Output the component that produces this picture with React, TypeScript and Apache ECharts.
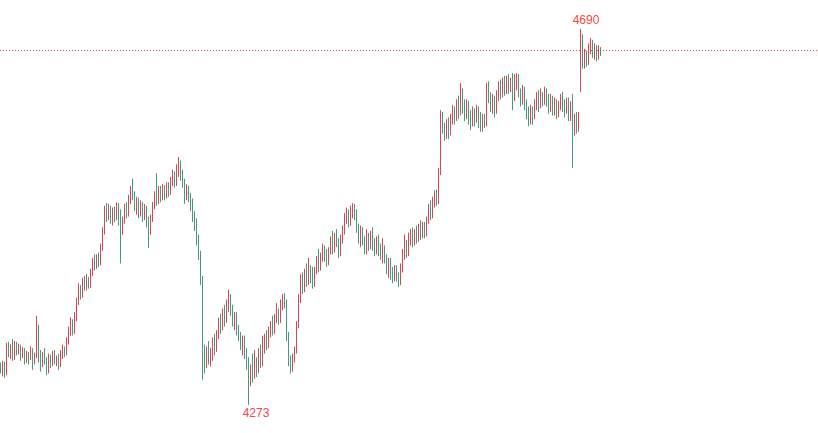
import React, { useEffect, useRef } from 'react';
import * as echarts from 'echarts';

// Each row: [open, close, lowest, highest]
const segA: number[][] = [
  [4316, 4312, 4308, 4320], [4312, 4318, 4305, 4322], [4318, 4309, 4303, 4321], [4310, 4338, 4306, 4342],
  [4338, 4330, 4326, 4343], [4330, 4336, 4324, 4340], [4336, 4326, 4322, 4346], [4326, 4340, 4323, 4344],
  [4340, 4332, 4328, 4343], [4332, 4338, 4329, 4341], [4337, 4328, 4322, 4340], [4328, 4334, 4325, 4337],
  [4334, 4322, 4318, 4336], [4322, 4330, 4320, 4333], [4330, 4326, 4318, 4332], [4326, 4334, 4323, 4338],
  [4334, 4322, 4312, 4336], [4322, 4328, 4318, 4331], [4328, 4343, 4325, 4372], [4343, 4330, 4320, 4362],
  [4330, 4318, 4310, 4334], [4318, 4330, 4315, 4332], [4330, 4322, 4318, 4336], [4322, 4310, 4306, 4326],
  [4310, 4326, 4308, 4330], [4326, 4320, 4314, 4329], [4320, 4330, 4316, 4333], [4330, 4322, 4318, 4334],
  [4322, 4326, 4316, 4328], [4326, 4318, 4312, 4330], [4318, 4330, 4315, 4334], [4330, 4336, 4324, 4340],
  [4336, 4330, 4326, 4338], [4330, 4342, 4328, 4348], [4342, 4356, 4340, 4360], [4356, 4364, 4350, 4370],
  [4364, 4356, 4350, 4368],
];
const segB: number[][] = [
  [4356, 4372, 4352, 4376], [4372, 4388, 4366, 4392], [4388, 4402, 4384, 4408], [4402, 4396, 4390, 4406],
  [4396, 4410, 4392, 4414], [4410, 4404, 4400, 4416], [4404, 4412, 4400, 4418], [4412, 4406, 4402, 4415],
  [4406, 4420, 4403, 4424], [4420, 4432, 4416, 4436], [4432, 4426, 4422, 4440], [4426, 4436, 4424, 4440],
  [4436, 4430, 4426, 4442],
];
const segC: number[][] = [
  [4430, 4448, 4428, 4452], [4448, 4466, 4444, 4470], [4466, 4490, 4462, 4494], [4490, 4484, 4476, 4497],
  [4484, 4492, 4478, 4496], [4492, 4480, 4474, 4494], [4480, 4488, 4472, 4492], [4488, 4482, 4476, 4493],
  [4482, 4494, 4478, 4498], [4494, 4486, 4472, 4497], [4486, 4470, 4430, 4490],
];
const segD: number[][] = [
  [4470, 4478, 4462, 4482], [4478, 4492, 4474, 4496], [4492, 4486, 4480, 4498], [4486, 4502, 4482, 4506],
  [4502, 4512, 4496, 4516], [4512, 4506, 4500, 4524], [4506, 4494, 4488, 4510], [4494, 4500, 4484, 4504],
  [4500, 4488, 4480, 4503], [4488, 4496, 4482, 4500], [4496, 4484, 4476, 4498], [4484, 4492, 4478, 4496],
  [4492, 4478, 4470, 4494], [4478, 4466, 4447, 4482], [4466, 4480, 4462, 4484],
];
const segE: number[][] = [
  [4480, 4494, 4476, 4498], [4494, 4506, 4490, 4510], [4506, 4500, 4494, 4530], [4500, 4512, 4496, 4516],
  [4512, 4504, 4498, 4516], [4504, 4514, 4500, 4518], [4514, 4506, 4500, 4517], [4506, 4516, 4502, 4520],
  [4516, 4510, 4504, 4520], [4510, 4522, 4506, 4526], [4522, 4528, 4516, 4534], [4528, 4520, 4514, 4532],
  [4520, 4532, 4516, 4540], [4532, 4540, 4526, 4548], [4540, 4530, 4522, 4544], [4530, 4520, 4514, 4534],
  [4520, 4508, 4496, 4524],
];
const segF: number[][] = [
  [4508, 4514, 4500, 4518], [4514, 4504, 4498, 4516], [4504, 4498, 4488, 4508], [4498, 4482, 4476, 4502],
  [4482, 4476, 4466, 4488], [4476, 4458, 4450, 4480], [4458, 4440, 4434, 4462], [4440, 4412, 4406, 4444],
  [4412, 4330, 4301, 4416],
];
const segG: number[][] = [
  [4330, 4318, 4308, 4340], [4318, 4334, 4314, 4338], [4334, 4326, 4318, 4344], [4326, 4332, 4316, 4336],
  [4332, 4342, 4322, 4348], [4342, 4336, 4328, 4352], [4336, 4352, 4332, 4356], [4352, 4366, 4346, 4370],
  [4366, 4360, 4352, 4374], [4360, 4374, 4356, 4380], [4374, 4368, 4360, 4384], [4368, 4382, 4364, 4390],
  [4382, 4392, 4376, 4401], [4392, 4380, 4372, 4396], [4380, 4366, 4360, 4384], [4366, 4372, 4356, 4376],
  [4372, 4358, 4350, 4376], [4358, 4350, 4344, 4362], [4350, 4340, 4334, 4354], [4340, 4346, 4328, 4350],
  [4346, 4332, 4324, 4350],
];
const segH: number[][] = [
  [4332, 4320, 4312, 4336], [4320, 4300, 4273, 4326], [4300, 4312, 4294, 4318], [4312, 4306, 4298, 4330],
  [4306, 4320, 4302, 4334], [4320, 4312, 4304, 4326], [4312, 4330, 4308, 4336], [4330, 4320, 4314, 4340],
  [4320, 4338, 4316, 4350], [4338, 4346, 4330, 4352], [4346, 4340, 4334, 4356], [4340, 4354, 4336, 4360],
  [4354, 4362, 4348, 4366], [4362, 4356, 4350, 4372], [4356, 4370, 4352, 4374], [4370, 4376, 4364, 4386],
  [4376, 4368, 4362, 4380], [4368, 4384, 4364, 4390], [4384, 4392, 4378, 4396], [4392, 4386, 4380, 4397],
  [4386, 4350, 4344, 4390], [4350, 4322, 4316, 4354], [4322, 4316, 4308, 4328],
];
const segI: number[][] = [
  [4316, 4326, 4310, 4330], [4326, 4334, 4320, 4338], [4334, 4362, 4330, 4366], [4362, 4392, 4358, 4396],
  [4392, 4412, 4386, 4418], [4412, 4404, 4396, 4420], [4404, 4418, 4398, 4424], [4418, 4412, 4404, 4430],
  [4412, 4424, 4406, 4436], [4424, 4416, 4408, 4428], [4416, 4410, 4402, 4426], [4410, 4422, 4404, 4426],
  [4422, 4432, 4418, 4438], [4432, 4426, 4420, 4446], [4426, 4438, 4422, 4442], [4438, 4446, 4432, 4452],
  [4446, 4440, 4432, 4450], [4440, 4432, 4426, 4446], [4432, 4444, 4428, 4448], [4444, 4452, 4440, 4460],
  [4452, 4446, 4440, 4466], [4446, 4460, 4442, 4464], [4460, 4454, 4448, 4468], [4454, 4442, 4436, 4458],
  [4442, 4456, 4438, 4462], [4456, 4466, 4452, 4472], [4466, 4480, 4462, 4486], [4480, 4486, 4474, 4492],
  [4486, 4478, 4470, 4490], [4478, 4488, 4472, 4494],
];
const segJ: number[][] = [
  [4488, 4492, 4480, 4497], [4492, 4484, 4478, 4496], [4484, 4470, 4464, 4490], [4470, 4460, 4452, 4474],
  [4460, 4466, 4448, 4472], [4466, 4456, 4450, 4470], [4456, 4446, 4440, 4460], [4446, 4458, 4440, 4468],
  [4458, 4450, 4444, 4464], [4450, 4462, 4446, 4466], [4462, 4452, 4444, 4470], [4452, 4444, 4438, 4458],
  [4444, 4456, 4440, 4460], [4456, 4448, 4438, 4462], [4448, 4440, 4434, 4452], [4440, 4446, 4430, 4458],
  [4446, 4436, 4430, 4450], [4436, 4424, 4418, 4440], [4424, 4432, 4414, 4436], [4432, 4420, 4412, 4436],
  [4420, 4414, 4408, 4426], [4414, 4424, 4410, 4428], [4424, 4416, 4410, 4428], [4416, 4410, 4404, 4420],
  [4410, 4426, 4406, 4430],
];
const segK: number[][] = [
  [4426, 4440, 4420, 4446], [4440, 4448, 4434, 4462], [4448, 4442, 4436, 4456], [4442, 4456, 4438, 4464],
  [4456, 4462, 4450, 4468], [4462, 4454, 4448, 4470], [4454, 4464, 4450, 4468], [4464, 4458, 4452, 4472],
  [4458, 4468, 4454, 4474], [4468, 4462, 4456, 4478], [4462, 4472, 4458, 4476], [4472, 4464, 4458, 4476],
  [4464, 4478, 4460, 4482], [4478, 4490, 4474, 4496], [4490, 4484, 4478, 4500], [4484, 4498, 4480, 4504],
  [4498, 4506, 4492, 4511], [4506, 4500, 4494, 4512], [4500, 4532, 4496, 4536],
];
const segL: number[][] = [
  [4532, 4592, 4528, 4600], [4592, 4580, 4574, 4598], [4580, 4572, 4566, 4586], [4572, 4584, 4568, 4590],
  [4584, 4576, 4568, 4592], [4576, 4590, 4572, 4596], [4590, 4598, 4584, 4606], [4598, 4592, 4584, 4604],
  [4592, 4606, 4588, 4612], [4606, 4598, 4590, 4616], [4598, 4618, 4594, 4630], [4618, 4604, 4596, 4624],
  [4604, 4596, 4588, 4612], [4596, 4606, 4590, 4612], [4606, 4594, 4584, 4610], [4594, 4586, 4578, 4600],
  [4586, 4598, 4582, 4604], [4598, 4590, 4582, 4602], [4590, 4600, 4586, 4606], [4600, 4592, 4580, 4604],
  [4592, 4584, 4576, 4598],
];
const segM: number[][] = [
  [4584, 4590, 4576, 4596], [4590, 4586, 4580, 4596], [4586, 4624, 4582, 4630], [4624, 4614, 4608, 4632],
  [4614, 4604, 4598, 4620], [4604, 4612, 4596, 4618], [4612, 4600, 4592, 4616], [4600, 4616, 4596, 4622],
  [4616, 4626, 4610, 4632], [4626, 4618, 4612, 4634], [4618, 4630, 4614, 4636], [4630, 4622, 4616, 4638],
  [4622, 4634, 4618, 4638], [4634, 4626, 4618, 4640], [4626, 4632, 4620, 4636], [4632, 4614, 4600, 4641],
  [4614, 4628, 4610, 4640], [4628, 4636, 4622, 4641], [4636, 4620, 4614, 4640], [4620, 4610, 4604, 4624],
  [4610, 4620, 4606, 4628], [4620, 4608, 4600, 4626], [4608, 4596, 4590, 4612], [4596, 4588, 4582, 4604],
  [4588, 4600, 4584, 4606],
];
const segN: number[][] = [
  [4600, 4594, 4584, 4604], [4594, 4606, 4590, 4612], [4606, 4614, 4600, 4620], [4614, 4606, 4598, 4622],
  [4606, 4618, 4602, 4624], [4618, 4610, 4604, 4620], [4610, 4620, 4606, 4626], [4620, 4612, 4604, 4624],
  [4612, 4602, 4596, 4618], [4602, 4612, 4598, 4618], [4612, 4600, 4594, 4616], [4600, 4608, 4594, 4614],
  [4608, 4598, 4590, 4612], [4598, 4606, 4592, 4610], [4606, 4614, 4600, 4618], [4614, 4606, 4598, 4620],
  [4606, 4600, 4592, 4612], [4600, 4610, 4596, 4614], [4610, 4596, 4588, 4614], [4596, 4604, 4588, 4610],
  [4604, 4578, 4536, 4618], [4578, 4590, 4572, 4596], [4590, 4582, 4574, 4598], [4582, 4594, 4576, 4598],
];
const segO: number[][] = [
  [4622, 4672, 4620, 4690], [4672, 4652, 4646, 4684], [4652, 4660, 4646, 4668], [4660, 4654, 4648, 4666],
  [4654, 4668, 4650, 4674], [4668, 4676, 4662, 4680], [4676, 4662, 4658, 4678], [4662, 4670, 4656, 4674],
  [4670, 4660, 4654, 4672], [4660, 4668, 4656, 4672], [4668, 4666, 4660, 4670],
];

const candles: number[][] = [
  ...segA, ...segB, ...segC, ...segD, ...segE, ...segF, ...segG, ...segH,
  ...segI, ...segJ, ...segK, ...segL, ...segM, ...segN, ...segO,
];
const categories: string[] = candles.map((_, i) => String(i));
const LAST_SLOT = 408;

const UP = '#dc4550';
const DOWN = '#46997a';
const MARK = '#f04848';

export default function App() {
  const ref = useRef<HTMLDivElement>(null);
  useEffect(() => {
    document.body.style.margin = '0';
    const chart = echarts.init(ref.current as HTMLDivElement, null, { renderer: 'svg' });
    const lastClose = candles[candles.length - 1][1];
    chart.setOption({
      animation: false,
      grid: { left: 0, right: 0, top: 29, bottom: 28 },
      xAxis: {
        type: 'category',
        data: categories,
        max: LAST_SLOT,
        boundaryGap: true,
        show: false,
      },
      yAxis: {
        type: 'value',
        scale: true,
        min: 'dataMin',
        max: 'dataMax',
        show: false,
      },
      series: [
        {
          type: 'candlestick',
          data: candles,
          barWidth: 1,
          itemStyle: {
            color: UP,
            color0: DOWN,
            borderColor: UP,
            borderColor0: DOWN,
            borderWidth: 1,
          },
          markPoint: {
            symbol: 'circle',
            symbolSize: 0,
            label: {
              show: true,
              color: MARK,
              fontSize: 12,
              fontFamily: 'Liberation Sans, Arial, sans-serif',
            },
            data: [
              { type: 'max', valueDim: 'highest', label: { position: 'top', distance: 3, offset: [5, 0] } },
              { type: 'min', valueDim: 'lowest', label: { position: 'bottom', distance: 2, offset: [7, 0] } },
            ],
          },
          markLine: {
            symbol: ['none', 'none'],
            silent: true,
            label: { show: false },
            lineStyle: { color: MARK, type: [1, 2], width: 1 },
            data: [{ yAxis: lastClose }],
          },
        },
      ],
    });
    return () => chart.dispose();
  }, []);
  return <div ref={ref} style={{ width: 818, height: 433 }} />;
}
